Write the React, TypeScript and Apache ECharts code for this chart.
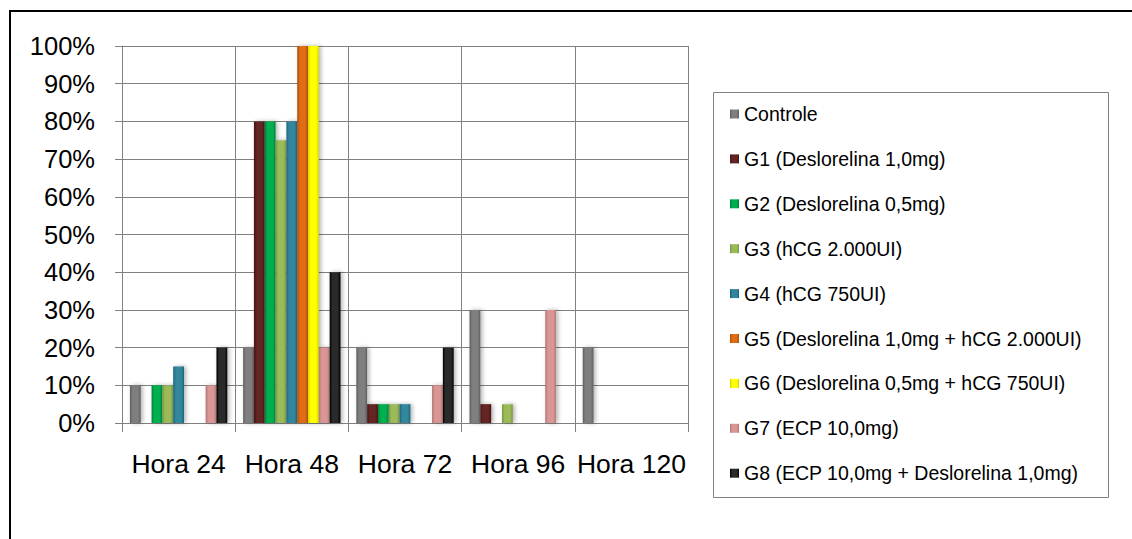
import React, { useEffect, useRef } from "react";
import * as echarts from "echarts";

const categories = ["Hora 24", "Hora 48", "Hora 72", "Hora 96", "Hora 120"];
const seriesNames = [
  "Controle",
  "G1 (Deslorelina 1,0mg)",
  "G2 (Deslorelina 0,5mg)",
  "G3 (hCG 2.000UI)",
  "G4 (hCG 750UI)",
  "G5 (Deslorelina 1,0mg + hCG 2.000UI)",
  "G6 (Deslorelina 0,5mg + hCG 750UI)",
  "G7 (ECP 10,0mg)",
  "G8 (ECP 10,0mg + Deslorelina 1,0mg)",
];
const controle = [10, 20, 20, 30, 20];
const g1 = [0, 80, 5, 5, 0];
const g2 = [10, 80, 5, 0, 0];
const g3 = [10, 75, 5, 5, 0];
const g4 = [15, 80, 5, 0, 0];
const g5 = [0, 100, 0, 0, 0];
const g6 = [0, 100, 0, 0, 0];
const g7 = [10, 20, 10, 30, 0];
const g8 = [20, 40, 20, 0, 0];
const seriesValues = [controle, g1, g2, g3, g4, g5, g6, g7, g8];
const yTicks = [0, 10, 20, 30, 40, 50, 60, 70, 80, 90, 100];

const colors = [
  ["#5e5e5e", "#7f7f7f"],
  ["#451515", "#632523"],
  ["#00803a", "#00b050"],
  ["#7a9444", "#9bbb59"],
  ["#1f6478", "#31869d"],
  ["#a84f08", "#e06c12"],
  ["#d4d400", "#ffff00"],
  ["#b07674", "#d99694"],
  ["#000000", "#2a2a2a"],
];

function grad(dark: string, base: string) {
  return new echarts.graphic.LinearGradient(0, 0, 1, 0, [
    { offset: 0, color: dark },
    { offset: 0.25, color: base },
    { offset: 0.75, color: base },
    { offset: 1, color: dark },
  ]);
}

export default function App() {
  const ref = useRef<HTMLDivElement>(null);
  useEffect(() => {
    if (!ref.current) return;
    const chart = echarts.init(ref.current, null, { renderer: "svg" });
    const font = "'Liberation Sans', Arial, sans-serif";
    chart.setOption({
      animation: false,
      backgroundColor: "#ffffff",
      textStyle: { fontFamily: font },
      grid: { left: 122, top: 46, width: 566, height: 377, containLabel: false },
      legend: {
        orient: "vertical",
        left: 730,
        top: 104,
        padding: 0,
        itemGap: 24.9,
        itemWidth: 9,
        itemHeight: 9,
        icon: "rect",
        data: seriesNames,
        textStyle: { fontSize: 19.5, lineHeight: 19, color: "#000", fontFamily: font },
      },
      xAxis: {
        type: "category",
        data: categories,
        axisLine: { lineStyle: { color: "#808080", width: 1 } },
        axisTick: { show: true, length: 9, lineStyle: { color: "#808080" } },
        splitLine: { show: true, lineStyle: { color: "#808080", width: 1 } },
        axisLabel: { interval: 0, fontSize: 26.5, color: "#000", margin: 27, fontFamily: font },
      },
      yAxis: {
        type: "value",
        min: 0,
        max: 100,
        interval: 10,
        axisLine: { show: true, lineStyle: { color: "#808080", width: 1 } },
        axisTick: { show: true, length: 7, lineStyle: { color: "#808080" } },
        splitLine: { show: true, lineStyle: { color: "#808080", width: 1 } },
        axisLabel: {
          fontSize: 25.5,
          color: "#000",
          margin: 27,
          fontFamily: font,
          formatter: (v: number) => (yTicks.includes(v) ? v + "%" : ""),
        },
      },
      series: seriesNames.map((name, i) => ({
        name,
        type: "bar",
        data: seriesValues[i],
        barGap: "0%",
        barCategoryGap: "14%",
        itemStyle: {
          color: grad(colors[i][0], colors[i][1]),
          shadowColor: "rgba(0,0,0,0.3)",
          shadowBlur: 4,
          shadowOffsetX: 2,
        },
      })),
      graphic: [
        {
          type: "rect",
          shape: { x: 713.5, y: 92.5, width: 395, height: 405 },
          style: { fill: "none", stroke: "#808080", lineWidth: 1 },
          z: -1,
        },
        {
          type: "line",
          shape: { x1: 9, y1: 11, x2: 1132, y2: 11 },
          style: { stroke: "#000", lineWidth: 2 },
        },
        {
          type: "line",
          shape: { x1: 10, y1: 10, x2: 10, y2: 539 },
          style: { stroke: "#000", lineWidth: 2 },
        },
      ],
    });
    return () => chart.dispose();
  }, []);
  return (
    <div
      ref={ref}
      style={{ position: "fixed", left: 0, top: 0, width: 1132, height: 539 }}
    />
  );
}
